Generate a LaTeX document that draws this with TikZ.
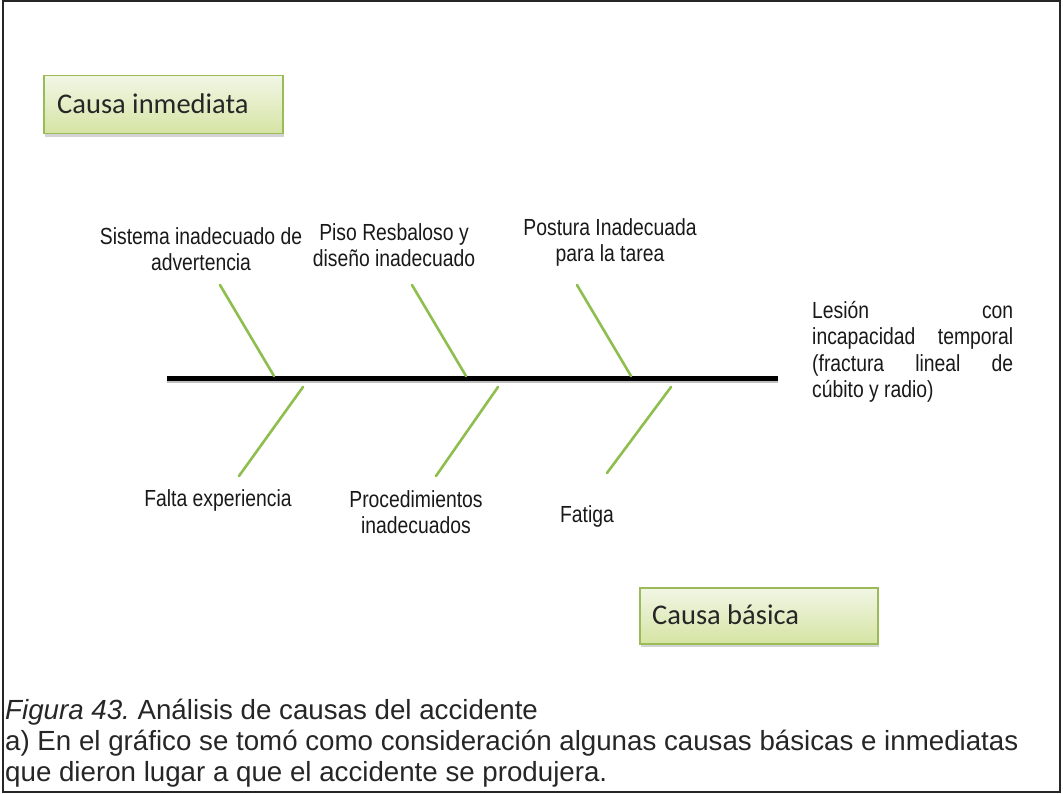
\documentclass[tikz,border=0pt]{standalone}
\usepackage{fontspec}
\setmainfont{Liberation Sans}
\newfontfamily\calib{Carlito}
\newfontfamily\narrow[FakeStretch=0.83]{Liberation Sans}
\usetikzlibrary{shadows}
\definecolor{boxtop}{HTML}{F2F6E6}
\definecolor{boxbot}{HTML}{D5E4A3}
\definecolor{boxedge}{HTML}{9BBB59}
\definecolor{bonecol}{HTML}{8DBE4E}
\tikzset{
  catbox/.style={draw=boxedge, line width=1.5pt, top color=boxtop, bottom color=boxbot,
    drop shadow={shadow xshift=1pt, shadow yshift=-3pt, opacity=0.35},
    anchor=north west, inner sep=0pt},
  cattext/.style={anchor=west, inner sep=0pt, font=\calib\fontsize{28.5}{32}\selectfont, text=black!85},
  bone/.style={draw=bonecol, line width=2.6pt, line cap=round},
  spine/.style={draw=black, line width=5pt},
  lbl/.style={inner sep=0pt, align=center, font=\narrow\fontsize{23.3}{26}\selectfont, text=black!90},
  captxt/.style={anchor=base west, inner sep=0pt, font=\fontsize{27.7}{31}\selectfont, text=black!85}
}
\begin{document}
\begin{tikzpicture}[x=1pt, y=-1pt]
\useasboundingbox (0,0) rectangle (1063,794);
\draw[line width=2pt, draw=black!85] (3,1) rectangle (1060,792);

% category boxes
\node[catbox, minimum width=239pt, minimum height=58pt] (ci) at (43,75) {};
\node[cattext] (citext) at (57,104) {Causa inmediata};
\node[catbox, minimum width=238pt, minimum height=56pt] (cb) at (639,587) {};
\node[cattext] (cbtext) at (652,615) {Causa básica};

% spine
\coordinate (sL) at (167,378);
\coordinate (sR) at (778,378);
\draw[draw=black!25, line width=5pt] ([yshift=-2pt]sL) -- ([yshift=-2pt]sR);
\draw[spine] (sL) -- (sR);

% upper bones
\coordinate (u1a) at (220,285); \coordinate (u1b) at (274,376);
\coordinate (u2a) at (412,285); \coordinate (u2b) at (466,376);
\coordinate (u3a) at (577,285); \coordinate (u3b) at (631,376);
\draw[bone] (u1a) -- (u1b);
\draw[bone] (u2a) -- (u2b);
\draw[bone] (u3a) -- (u3b);
% lower bones
\coordinate (d1a) at (303,387); \coordinate (d1b) at (239,476);
\coordinate (d2a) at (498,387); \coordinate (d2b) at (436,476);
\coordinate (d3a) at (671,387); \coordinate (d3b) at (607,473);
\draw[bone] (d1a) -- (d1b);
\draw[bone] (d2a) -- (d2b);
\draw[bone] (d3a) -- (d3b);

% labels
\node[lbl] (t1) at (201,249) {Sistema inadecuado de\\advertencia};
\node[lbl] (t2) at (394,245) {Piso Resbaloso y\\diseño inadecuado};
\node[lbl] (t3) at (610,242) {Postura Inadecuada\\para la tarea};
\node[lbl] (b1) at (218,500) {Falta experiencia};
\node[lbl] (b2) at (416,512) {Procedimientos\\inadecuados};
\node[lbl] (b3) at (587,516) {Fatiga};

% effect
\node[inner sep=0pt, anchor=north west, align=left,
      font=\narrow\fontsize{23.3}{26.5}\selectfont, text=black!90] (eff) at (812,301)
  {\makebox[201pt][s]{Lesión\hfill con}\\
   \makebox[201pt][s]{incapacidad\hfill temporal}\\
   \makebox[201pt][s]{(fractura\hfill lineal\hfill de}\\
   cúbito y radio)};

% caption
\node[captxt] (c1) at (5,719) {\textit{Figura 43.}\ Análisis de causas del accidente};
\node[captxt] (c2) at (5,750) {a) En el gráfico se tomó como consideración algunas causas básicas e inmediatas};
\node[captxt] (c3) at (5,781) {que dieron lugar a que el accidente se produjera.};
\end{tikzpicture}
\end{document}
